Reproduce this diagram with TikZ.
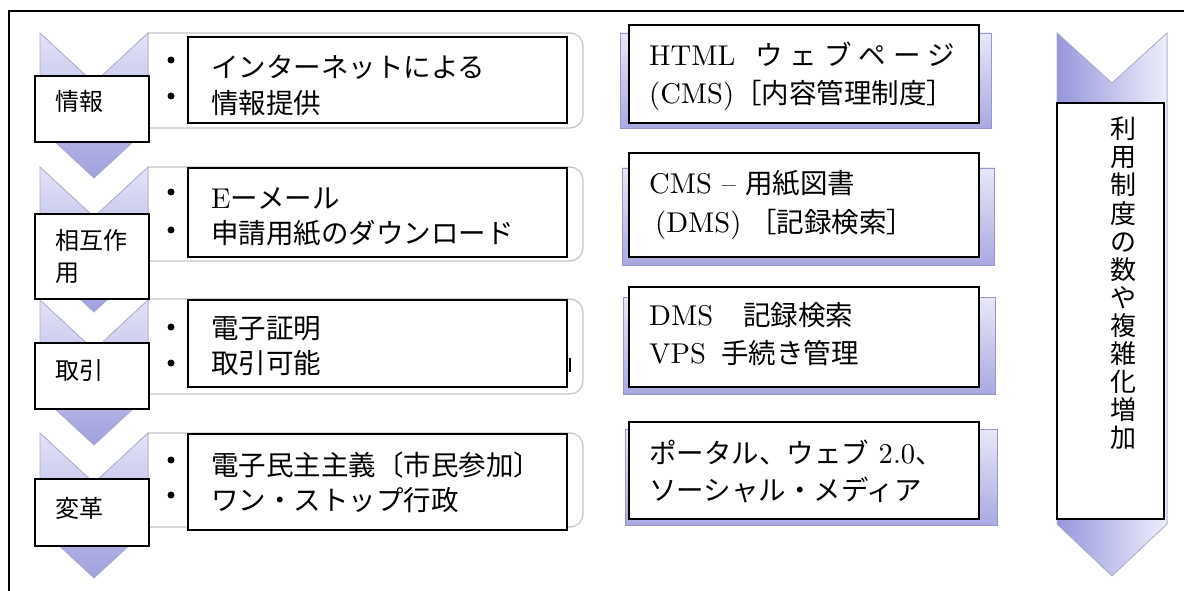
\documentclass[tikz,border=0pt]{standalone}
\usepackage{fontspec}
\setmainfont{lmroman10-regular}[Extension=.otf,Scale=1.04]
\newfontfamily\cjk{Noto Sans CJK JP}
\definecolor{chevtop}{RGB}{226,226,247}
\definecolor{chevbot}{RGB}{160,160,222}
\definecolor{chevline}{RGB}{176,176,206}
\definecolor{rrline}{RGB}{196,196,202}
\definecolor{shtop}{RGB}{232,232,248}
\definecolor{shbot}{RGB}{168,168,224}
\definecolor{shline}{RGB}{150,150,205}
\definecolor{rcleft}{RGB}{150,150,220}
\definecolor{rcright}{RGB}{238,238,251}
\begin{document}
\begin{tikzpicture}[x=1pt,y=-1pt,
 chev/.style={top color=chevtop,bottom color=chevbot,draw=chevline,line width=0.8pt},
 rr/.style={fill=white,draw=rrline,line width=1.2pt,rounded corners=13pt},
 bbox/.style={fill=white,draw=black,line width=1.8pt},
 shad/.style={top color=shtop,bottom color=shbot,draw=shline,line width=0.8pt},
 mtext/.style={anchor=base west,inner sep=0pt,font=\fontsize{27.5}{30}\selectfont},
 ltext/.style={anchor=base west,inner sep=0pt,font=\cjk\fontsize{24}{28}\selectfont},
 vtext/.style={anchor=base,inner sep=0pt,font=\cjk\fontsize{26}{28}\selectfont},
]
\useasboundingbox (0,0) rectangle (1184,591);
\fill[white] (0,0) rectangle (1184,591);

% rounded list panels
\filldraw[rr] (148,33) -- (583,33) -- (583,128) -- (148,128);
\filldraw[rr] (148,167) -- (583,167) -- (583,261) -- (148,261);
\filldraw[rr] (148,299) -- (583,299) -- (583,394) -- (148,394);
\filldraw[rr] (148,433) -- (583,433) -- (583,527) -- (148,527);

% left chevrons
\foreach \t in {33,167,300,433}{
  \filldraw[chev] (40,\t) -- (94,\t+50) -- (148,\t) -- (148,\t+95) -- (94,\t+145) -- (40,\t+95) -- cycle;
}

% inner boxes
\draw[bbox] (188,37) rectangle (567,123);
\draw[bbox] (188,168) rectangle (567,257);
\draw[bbox] (188,300) rectangle (567,387);
\draw[bbox] (188,434) rectangle (567,530);
\draw[line width=2.5pt] (570,358) -- (570,372);

% bullets
\foreach \y in {60,96,192,230,327,363,460,495}{
  \fill (171,\y) circle (3.5);
}

% label boxes
\draw[bbox] (35,76) rectangle (149,142);
\draw[bbox] (35,214) rectangle (149,299);
\draw[bbox] (35,343) rectangle (149,409);
\draw[bbox] (35,479) rectangle (149,546);
\node[ltext] (l1) at (55,111) {情報};
\node[ltext] (l2a) at (55,249) {相互作};
\node[ltext] (l2b) at (55,281) {用};
\node[ltext] (l3) at (55,379) {取引};
\node[ltext] (l4) at (55,517) {変革};

% middle texts
\node[mtext] (m1a) at (211,77.5) {\cjk インターネットによる};
\node[mtext] (m1b) at (211,113.5) {\cjk 情報提供};
\node[mtext] (m2a) at (211,208.5) {E{\cjk ーメール}};
\node[mtext] (m2b) at (211,243.5) {\cjk 申請用紙のダウンロード};
\node[mtext] (m3a) at (211,338.5) {\cjk 電子証明};
\node[mtext] (m3b) at (211,373.5) {\cjk 取引可能};
\node[mtext] (m4a) at (211,475.5) {\cjk 電子民主主義〔市民参加〕};
\node[mtext] (m4b) at (211,510.5) {\cjk ワン・ストップ行政};

% right boxes
\draw[shad] (620,33) rectangle (991,128);
\draw[shad] (622,168) rectangle (994,265);
\draw[shad] (623,297) rectangle (995,394);
\draw[shad] (625,429) rectangle (997,525);
\draw[bbox] (629,25) rectangle (979,123);
\draw[bbox] (629,153) rectangle (979,257);
\draw[bbox] (629,287) rectangle (979,387);
\draw[bbox] (629,422) rectangle (979,519);

\node[mtext] (r1a) at (649,65.5) {HTML\hspace{20pt}{\cjk ウ\hspace{7pt}ェ\hspace{7pt}ブ\hspace{7pt}ペ\hspace{7pt}ー\hspace{7pt}ジ}};
\node[mtext] (r1b) at (649,103.5) {(CMS){\cjk ［内容管理制度］}};
\node[mtext] (r2a) at (649,193.5) {CMS -- {\cjk 用紙図書}};
\node[mtext] (r2b) at (649,232.5) {\hspace{6pt}(DMS)\hspace{8pt}{\cjk ［記録検索］}};
\node[mtext] (r3a) at (649,325.5) {DMS\hspace{30pt}{\cjk 記録検索}};
\node[mtext] (r3b) at (649,363.5) {VPS\hspace{15pt}{\cjk 手続き管理}};
\node[mtext] (r4a) at (649,463.5) {{\cjk ポータル、ウェブ} 2.0{\cjk 、}};
\node[mtext] (r4b) at (649,500.5) {\cjk ソーシャル・メディア};

% right long chevron
\filldraw[left color=rcleft,right color=rcright,draw=chevline,line width=0.8pt]
  (1057,33) -- (1112,83) -- (1167,33) -- (1167,524) -- (1112,576) -- (1057,524) -- cycle;
\draw[bbox] (1057,103) rectangle (1164,519);
\foreach \c [count=\i from 0] in {利,用,制,度,の,数,や,複,雑,化,増,加}{
  \node[vtext] (v\i) at (1123,139+28*\i) {\c};
}

% frame
\draw[line width=1.5pt] (9,620) -- (9,11) -- (1210,11);
\end{tikzpicture}
\end{document}
